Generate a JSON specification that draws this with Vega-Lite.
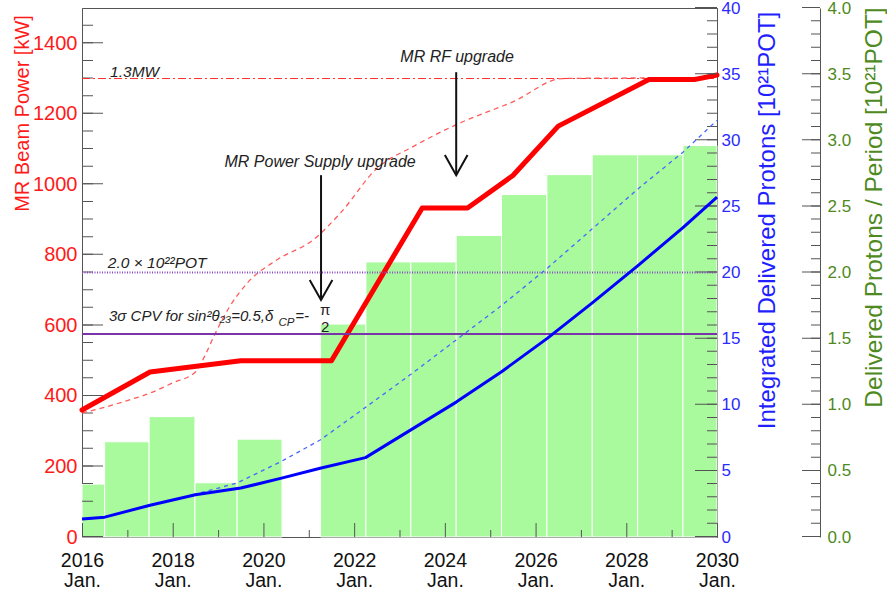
{
  "$schema": "https://vega.github.io/schema/vega-lite/v6.json",
  "width": 635,
  "height": 529,
  "autosize": {"type": "none"},
  "padding": {"left": 82, "top": 8, "right": 170, "bottom": 54},
  "background": "white",
  "config": {
    "view": {"stroke": "#555", "strokeWidth": 1},
    "axis": {"grid": false, "ticks": false, "domainColor": "#555", "labelFont": "Liberation Sans", "titleFont": "Liberation Sans", "titleFontWeight": "normal", "labelOverlap": false, "labelFlush": false},
    "text": {"font": "Liberation Sans"}
  },
  "datasets": {
    "bars": [
      {"year": 2016.0, "year2": 2016.5, "per": 0.40},
      {"year": 2016.5, "year2": 2017.48, "per": 0.72},
      {"year": 2017.48, "year2": 2018.49, "per": 0.91},
      {"year": 2018.49, "year2": 2019.42, "per": 0.41},
      {"year": 2019.42, "year2": 2020.41, "per": 0.74},
      {"year": 2021.26, "year2": 2022.26, "per": 1.61},
      {"year": 2022.26, "year2": 2023.25, "per": 2.08},
      {"year": 2023.25, "year2": 2024.25, "per": 2.08},
      {"year": 2024.25, "year2": 2025.25, "per": 2.28},
      {"year": 2025.25, "year2": 2026.25, "per": 2.59},
      {"year": 2026.25, "year2": 2027.25, "per": 2.74},
      {"year": 2027.25, "year2": 2028.25, "per": 2.89},
      {"year": 2028.25, "year2": 2029.25, "per": 2.89},
      {"year": 2029.25, "year2": 2030.0, "per": 2.96}
    ],
    "redSolid": [
      {"year": 2016.0, "kw": 360}, {"year": 2017.5, "kw": 468}, {"year": 2019.5, "kw": 500},
      {"year": 2021.5, "kw": 500}, {"year": 2023.5, "kw": 933}, {"year": 2024.5, "kw": 933},
      {"year": 2025.5, "kw": 1025}, {"year": 2026.5, "kw": 1165}, {"year": 2028.5, "kw": 1297},
      {"year": 2029.5, "kw": 1297}, {"year": 2030.0, "kw": 1310}
    ],
    "redDashed": [
      {"year": 2016.0, "kw": 352}, {"year": 2016.5, "kw": 368}, {"year": 2017.0, "kw": 387},
      {"year": 2017.5, "kw": 408}, {"year": 2018.0, "kw": 437}, {"year": 2018.5, "kw": 468},
      {"year": 2018.75, "kw": 525}, {"year": 2018.9, "kw": 567}, {"year": 2019.25, "kw": 652},
      {"year": 2019.65, "kw": 721}, {"year": 2020.3, "kw": 786}, {"year": 2021.1, "kw": 843},
      {"year": 2021.7, "kw": 919}, {"year": 2022.5, "kw": 1045}, {"year": 2023.3, "kw": 1107},
      {"year": 2024.3, "kw": 1172}, {"year": 2025.5, "kw": 1234}, {"year": 2026.6, "kw": 1300},
      {"year": 2029.5, "kw": 1303}, {"year": 2030.0, "kw": 1315}
    ],
    "refRed": [{"year": 2016, "kw": 1300}, {"year": 2030, "kw": 1300}],
    "arrows": [
      {"g": "s1", "ord": 0, "year": 2021.27, "kw": 1026}, {"g": "s1", "ord": 1, "year": 2021.27, "kw": 672},
      {"g": "h1", "ord": 0, "year": 2021.02, "kw": 729}, {"g": "h1", "ord": 1, "year": 2021.27, "kw": 672}, {"g": "h1", "ord": 2, "year": 2021.52, "kw": 729},
      {"g": "s2", "ord": 0, "year": 2024.25, "kw": 1318}, {"g": "s2", "ord": 1, "year": 2024.25, "kw": 1026},
      {"g": "h2", "ord": 0, "year": 2024.0, "kw": 1083}, {"g": "h2", "ord": 1, "year": 2024.25, "kw": 1026}, {"g": "h2", "ord": 2, "year": 2024.5, "kw": 1083}
    ],
    "notesLeft": [
      {"year": 2016.62, "kw": 1304, "text": "1.3MW"},
      {"year": 2016.57, "kw": 763, "text": "2.0 × 10²²POT"}
    ],
    "notesCPV": [
      {"year": 2016.595, "kw": 612, "text": "3σ CPV for sin²θ₂₃=0.5,δ"},
      {"year": 2020.7, "kw": 612, "text": "=-"}
    ],
    "notesCenter": [
      {"year": 2021.25, "kw": 1049, "text": "MR Power Supply upgrade"},
      {"year": 2024.27, "kw": 1347, "text": "MR RF upgrade"}
    ],
    "notesSub": [{"year": 2020.33, "kw": 598, "text": "CP"}],
    "notesFrac": [{"year": 2021.36, "kw": 629, "text": "π"}, {"year": 2021.36, "kw": 581, "text": "2"}],
    "blueSolid": [
      {"year": 2016.0, "pot": 1.36}, {"year": 2016.5, "pot": 1.5}, {"year": 2017.5, "pot": 2.4},
      {"year": 2018.5, "pot": 3.2}, {"year": 2019.5, "pot": 3.7}, {"year": 2020.4, "pot": 4.45},
      {"year": 2021.25, "pot": 5.2}, {"year": 2022.25, "pot": 6.0}, {"year": 2023.25, "pot": 8.1},
      {"year": 2024.25, "pot": 10.2}, {"year": 2025.25, "pot": 12.5}, {"year": 2026.25, "pot": 15.0},
      {"year": 2027.25, "pot": 17.7}, {"year": 2028.25, "pot": 20.5}, {"year": 2029.25, "pot": 23.4},
      {"year": 2030.0, "pot": 25.7}
    ],
    "blueDashed": [
      {"year": 2018.45, "pot": 3.2}, {"year": 2019.42, "pot": 4.08}, {"year": 2020.37, "pot": 5.67},
      {"year": 2021.25, "pot": 7.33}, {"year": 2022.25, "pot": 9.8}, {"year": 2023.25, "pot": 12.3},
      {"year": 2024.25, "pot": 14.9}, {"year": 2025.25, "pot": 17.5}, {"year": 2026.25, "pot": 20.3},
      {"year": 2027.25, "pot": 23.3}, {"year": 2028.25, "pot": 26.3}, {"year": 2029.25, "pot": 29.1},
      {"year": 2030.0, "pot": 31.5}
    ],
    "goalPOT": [{"year": 2016, "pot": 20}, {"year": 2030, "pot": 20}],
    "cpvPOT": [{"year": 2016, "pot": 15.35}, {"year": 2030, "pot": 15.35}],
    "spanKwMajor": [{"year": 2016, "kw": 0}, {"year": 2016, "kw": 1450}],
    "spanKwMinor": [{"year": 2016, "kw": 50}, {"year": 2016, "kw": 1480}],
    "spanYearMajor": [{"year": 2016, "kw": 0}, {"year": 2030.2, "kw": 0}],
    "spanYearMinor": [{"year": 2017, "kw": 0}, {"year": 2029.2, "kw": 0}],
    "spanPotMajor": [{"year": 2030, "pot": 0}, {"year": 2030, "pot": 40.5}],
    "spanPotMinor": [{"year": 2030, "pot": 1}, {"year": 2030, "pot": 39.5}],
    "spanPerMajor": [{"year": 2030, "per": 0}, {"year": 2030, "per": 4.05}],
    "spanPerMinor": [{"year": 2030, "per": 0.1}, {"year": 2030, "per": 3.95}]
  },
  "layer": [
    {
      "data": {"name": "bars"},
      "mark": {"type": "bar", "color": "#a9f99d", "stroke": "white", "strokeWidth": 1},
      "encoding": {
        "x": {
          "field": "year", "type": "quantitative",
          "scale": {"domain": [2016, 2030], "nice": false, "zero": false},
          "axis": {
            "orient": "bottom", "title": null,
            "values": [2016, 2018, 2020, 2022, 2024, 2026, 2028, 2030],
            "labelExpr": "[format(datum.value, 'd'), 'Jan.']",
            "labelFontSize": 19.5, "labelColor": "#111", "labelLineHeight": 20.5, "labelPadding": 14
          }
        },
        "x2": {"field": "year2"},
        "y": {
          "field": "per", "type": "quantitative",
          "scale": {"domain": [0, 4], "nice": false},
          "axis": {
            "orient": "right", "offset": 103,
            "values": [0, 0.5, 1, 1.5, 2, 2.5, 3, 3.5, 4],
            "format": ".1f",
            "labelColor": "#4e8a21", "labelFontSize": 17, "labelPadding": 7,
            "title": "Delivered Protons / Period [10²¹POT]",
            "titleColor": "#4e8a21", "titleFontSize": 24.5, "titleAngle": 270,
            "titleAlign": "center", "titleBaseline": "middle", "titleX": 54, "titleY": 199
          }
        },
        "y2": {"datum": 0}
      }
    },
    {
      "encoding": {
        "x": {"field": "year", "type": "quantitative", "scale": {"domain": [2016, 2030], "nice": false, "zero": false}, "axis": null},
        "y": {
          "field": "kw", "type": "quantitative",
          "scale": {"domain": [0, 1500], "nice": false},
          "axis": {
            "orient": "left",
            "values": [0, 200, 400, 600, 800, 1000, 1200, 1400],
            "format": "d",
            "labelColor": "#ff1a1a", "labelFontSize": 20, "labelPadding": 5,
            "title": "MR Beam Power [kW]",
            "titleColor": "#ff1a1a", "titleFontSize": 20, "titleAngle": 270,
            "titleAlign": "center", "titleBaseline": "middle", "titleX": -60, "titleY": 105
          }
        }
      },
      "layer": [
        {
          "data": {"name": "spanKwMajor"},
          "mark": {"type": "line", "color": "#555", "strokeWidth": 21, "xOffset": 10.5, "strokeDash": [1, 69.533], "strokeCap": "butt"},
          "encoding": {"order": {"field": "kw"}}
        },
        {
          "data": {"name": "spanKwMinor"},
          "mark": {"type": "line", "color": "#555", "strokeWidth": 11, "xOffset": 5.5, "strokeDash": [1, 16.633], "strokeCap": "butt"},
          "encoding": {"order": {"field": "kw"}}
        },
        {
          "data": {"name": "spanYearMajor"},
          "mark": {"type": "line", "color": "#555", "strokeWidth": 14, "yOffset": -7, "strokeDash": [1, 89.714], "strokeCap": "butt"}
        },
        {
          "data": {"name": "spanYearMinor"},
          "mark": {"type": "line", "color": "#555", "strokeWidth": 7, "yOffset": -3.5, "strokeDash": [1, 89.714], "strokeCap": "butt"}
        },
        {
          "data": {"name": "refRed"},
          "mark": {"type": "line", "color": "#ff3030", "strokeWidth": 1, "strokeDash": [8, 3, 2, 3]}
        },
        {
          "data": {"name": "redDashed"},
          "mark": {"type": "line", "color": "#ff5a5a", "strokeWidth": 1.3, "strokeDash": [5, 4], "interpolate": "monotone"}
        },
        {
          "data": {"name": "redSolid"},
          "mark": {"type": "line", "color": "#ff0000", "strokeWidth": 5, "strokeJoin": "round", "strokeCap": "round"}
        },
        {
          "data": {"name": "arrows"},
          "mark": {"type": "line", "color": "#111", "strokeWidth": 2},
          "encoding": {"detail": {"field": "g"}, "order": {"field": "ord"}}
        },
        {
          "data": {"name": "notesLeft"},
          "mark": {"type": "text", "align": "left", "baseline": "alphabetic", "fontStyle": "italic", "fontSize": 15.5, "color": "#222"},
          "encoding": {"text": {"field": "text"}}
        },
        {
          "data": {"name": "notesCPV"},
          "mark": {"type": "text", "align": "left", "baseline": "alphabetic", "fontStyle": "italic", "fontSize": 15, "color": "#222"},
          "encoding": {"text": {"field": "text"}}
        },
        {
          "data": {"name": "notesCenter"},
          "mark": {"type": "text", "align": "center", "baseline": "alphabetic", "fontStyle": "italic", "fontSize": 16, "color": "#222"},
          "encoding": {"text": {"field": "text"}}
        },
        {
          "data": {"name": "notesSub"},
          "mark": {"type": "text", "align": "left", "baseline": "alphabetic", "fontStyle": "italic", "fontSize": 11.5, "color": "#222"},
          "encoding": {"text": {"field": "text"}}
        },
        {
          "data": {"name": "notesFrac"},
          "mark": {"type": "text", "align": "center", "baseline": "alphabetic", "fontSize": 15, "color": "#222"},
          "encoding": {"text": {"field": "text"}}
        }
      ]
    },
    {
      "encoding": {
        "x": {"field": "year", "type": "quantitative", "scale": {"domain": [2016, 2030], "nice": false, "zero": false}, "axis": null},
        "y": {
          "field": "pot", "type": "quantitative",
          "scale": {"domain": [0, 40], "nice": false},
          "axis": {
            "orient": "right",
            "values": [0, 5, 10, 15, 20, 25, 30, 35, 40],
            "format": "d",
            "labelColor": "#2b2bff", "labelFontSize": 17, "labelPadding": 4,
            "title": "Integrated Delivered Protons [10²¹POT]",
            "titleColor": "#1f1fff", "titleFontSize": 24, "titleAngle": 270,
            "titleAlign": "center", "titleBaseline": "middle", "titleX": 50, "titleY": 212
          }
        }
      },
      "layer": [
        {
          "data": {"name": "spanPotMajor"},
          "mark": {"type": "line", "color": "#555", "strokeWidth": 22, "xOffset": -11, "strokeDash": [1, 65.125], "strokeCap": "butt"},
          "encoding": {"order": {"field": "pot"}}
        },
        {
          "data": {"name": "spanPotMinor"},
          "mark": {"type": "line", "color": "#555", "strokeWidth": 10, "xOffset": -5, "strokeDash": [1, 12.225], "strokeCap": "butt"},
          "encoding": {"order": {"field": "pot"}}
        },
        {
          "data": {"name": "goalPOT"},
          "mark": {"type": "line", "color": "#8a4cc4", "strokeWidth": 2, "strokeDash": [1, 1.5]}
        },
        {
          "data": {"name": "cpvPOT"},
          "mark": {"type": "line", "color": "#7a33a8", "strokeWidth": 2}
        },
        {
          "data": {"name": "blueDashed"},
          "mark": {"type": "line", "color": "#4a66ff", "strokeWidth": 1.3, "strokeDash": [4, 4]}
        },
        {
          "data": {"name": "blueSolid"},
          "mark": {"type": "line", "color": "#0000ff", "strokeWidth": 3, "strokeJoin": "round"}
        }
      ]
    },
    {
      "encoding": {
        "x": {"field": "year", "type": "quantitative", "scale": {"domain": [2016, 2030], "nice": false, "zero": false}, "axis": null},
        "y": {"field": "per", "type": "quantitative", "scale": {"domain": [0, 4], "nice": false}, "axis": null},
        "order": {"field": "per"}
      },
      "layer": [
        {
          "data": {"name": "spanPerMajor"},
          "mark": {"type": "line", "color": "#555", "strokeWidth": 18, "xOffset": 94, "strokeDash": [1, 65.125], "strokeCap": "butt"}
        },
        {
          "data": {"name": "spanPerMinor"},
          "mark": {"type": "line", "color": "#555", "strokeWidth": 9, "xOffset": 98.5, "strokeDash": [1, 12.225], "strokeCap": "butt"}
        }
      ]
    }
  ],
  "resolve": {"scale": {"x": "independent", "y": "independent"}, "axis": {"x": "independent", "y": "independent"}}
}
